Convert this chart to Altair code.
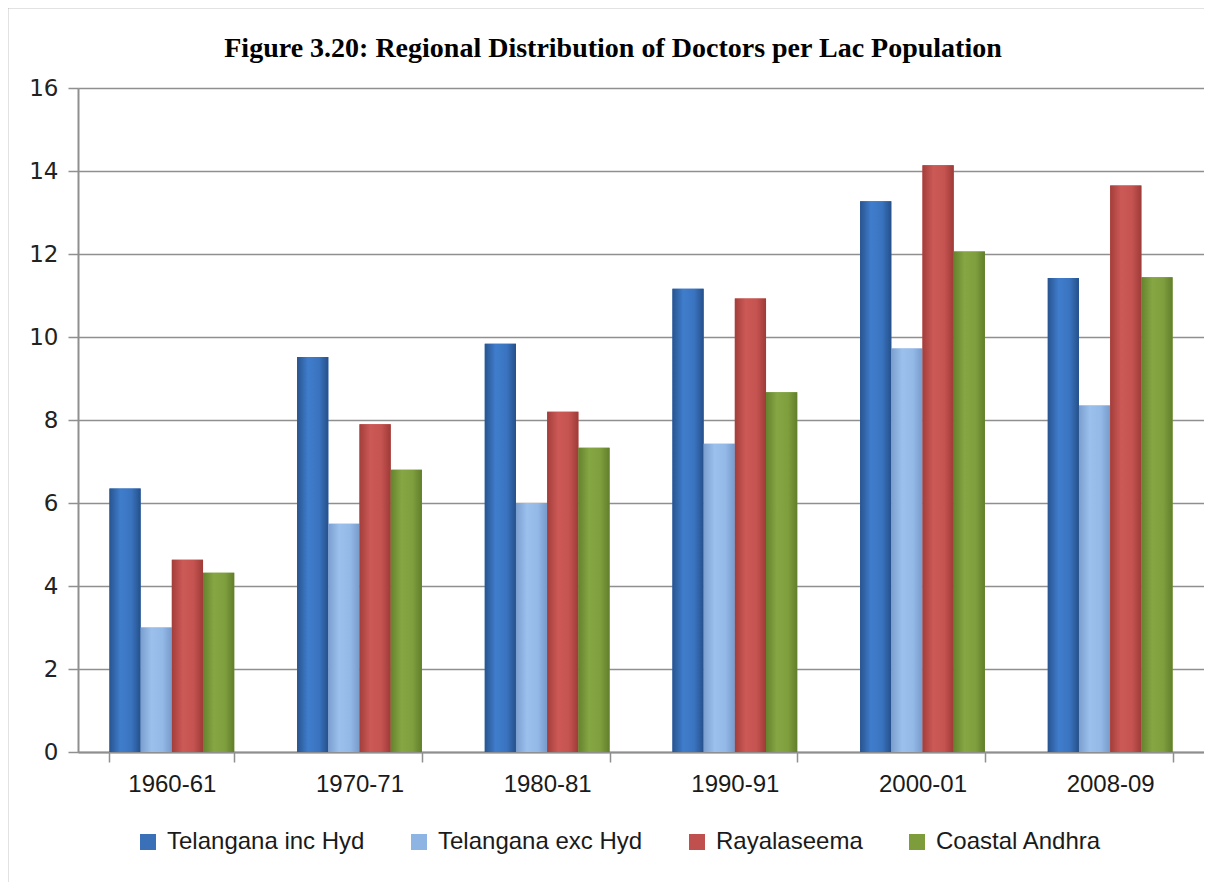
import altair as alt
import pandas as pd

years = ["1960-61", "1970-71", "1980-81", "1990-91", "2000-01", "2008-09"]
series = ["Telangana inc Hyd", "Telangana exc Hyd", "Rayalaseema", "Coastal Andhra"]
tel_inc = [6.35, 9.52, 9.84, 11.16, 13.27, 11.42]
tel_exc = [3.0, 5.5, 6.0, 7.43, 9.72, 8.35]
rayala = [4.63, 7.9, 8.2, 10.93, 14.14, 13.65]
coastal = [4.32, 6.8, 7.33, 8.67, 12.06, 11.44]
y_ticks = [0, 2, 4, 6, 8, 10, 12, 14, 16]

solid = ["#3A70B8", "#8DB4E2", "#C0504D", "#7D9C3C"]
grad_stops = [
    ["#28548F", "#3F7DCC", "#3A74C0", "#25508A"],
    ["#7A9FCF", "#9CC0EC", "#93B9E7", "#779BCB"],
    ["#A33E3B", "#CC5956", "#C55350", "#9E3B38"],
    ["#65832D", "#86A644", "#7F9F3E", "#617F2B"],
]

rows = []
for name, vals in zip(series, [tel_inc, tel_exc, rayala, coastal]):
    for yr, v in zip(years, vals):
        rows.append({"year": yr, "series": name, "value": v})
df = pd.DataFrame(rows)

W, H = 1126, 664
GRID = "#8f8f8f"

x_enc = alt.X(
    "year:N",
    sort=years,
    scale=alt.Scale(paddingInner=0.335, paddingOuter=0.1675),
    axis=alt.Axis(
        title=None, labelAngle=0, tickBand="extent", tickSize=10,
        tickColor=GRID, tickWidth=1.5, domainColor=GRID, domainWidth=2,
        labelFont="Liberation Sans", labelFontSize=24, labelColor="#1a1a1a",
        labelPadding=10, grid=False,
    ),
)
xo_enc = alt.XOffset(
    "series:N", sort=series,
    scale=alt.Scale(domain=series, paddingInner=0, paddingOuter=0),
)
y_enc = alt.Y(
    "value:Q",
    scale=alt.Scale(domain=[0, 16], nice=False),
    axis=alt.Axis(
        title=None, values=y_ticks, grid=True, gridColor=GRID, gridWidth=1.5,
        tickSize=10, tickColor=GRID, tickWidth=1.5, domainColor=GRID, domainWidth=2,
        labelFont="DejaVu Sans", labelFontSize=23, labelColor="#222222",
        labelPadding=10,
    ),
)

base = alt.Chart(df).mark_bar().encode(
    x=x_enc,
    xOffset=xo_enc,
    y=y_enc,
    color=alt.Color(
        "series:N",
        sort=series,
        scale=alt.Scale(domain=series, range=solid),
        legend=alt.Legend(
            title=None, orient="none", direction="horizontal",
            legendX=58, legendY=742,
            symbolType="square", symbolSize=256, symbolStrokeWidth=0,
            labelFont="Liberation Sans", labelFontSize=24, labelColor="#1a1a1a",
            labelOffset=7, columnPadding=42, labelLimit=0,
        ),
    ),
)

layers = [base]
for name, stops in zip(series, grad_stops):
    grad = alt.LinearGradient(
        gradient="linear", x1=0, x2=1, y1=0, y2=0,
        stops=[
            alt.GradientStop(color=stops[0], offset=0),
            alt.GradientStop(color=stops[1], offset=0.35),
            alt.GradientStop(color=stops[2], offset=0.7),
            alt.GradientStop(color=stops[3], offset=1),
        ],
    )
    layers.append(
        alt.Chart(df)
        .transform_filter(alt.datum.series == name)
        .mark_bar(color=grad)
        .encode(x=x_enc, xOffset=xo_enc, y=y_enc)
    )

frame_src = pd.DataFrame({"a": [0]})
frame_top = alt.Chart(frame_src).mark_rule(color="#8a8a8a", strokeWidth=2.5).encode(
    x=alt.value(-71), x2=alt.value(W + 20), y=alt.value(-81),
)
frame_left = alt.Chart(frame_src).mark_rule(color="#8a8a8a", strokeWidth=2.5).encode(
    x=alt.value(-71), y=alt.value(-81), y2=alt.value(H + 300),
)

chart = alt.layer(frame_top, frame_left, *layers).properties(
    width=W,
    height=H,
    autosize=alt.AutoSizeParams(type="none"),
    padding={"left": 70, "top": 80, "right": 0, "bottom": 130},
    title=alt.TitleParams(
        "Figure 3.20: Regional Distribution of Doctors per Lac Population",
        font="Liberation Serif", fontSize=28, fontWeight="bold", color="#000000",
        anchor="middle", frame="group", dx=-28, offset=-57,
    ),
).configure_view(stroke=None).configure(background="white")

chart.save("out.html", embed_options={"renderer": "svg", "actions": False})
